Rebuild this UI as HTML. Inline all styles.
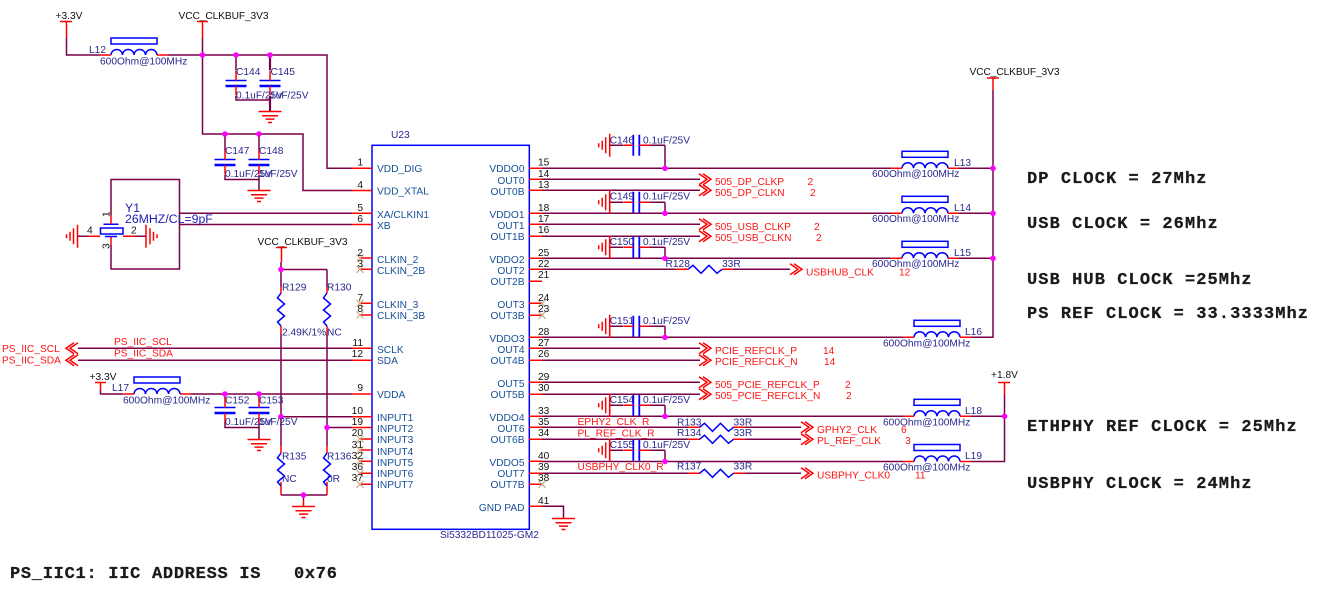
<!DOCTYPE html>
<html><head><meta charset="utf-8"><style>
html,body{margin:0;padding:0;background:#fff}
svg{display:block}
text{font-family:"Liberation Sans",sans-serif;font-size:10.2px;white-space:pre}
.n{fill:#28288f}.p{fill:#174f98}.r{fill:#ff1414}.k{fill:#111}
.b{font-family:"Liberation Mono",monospace;font-weight:bold;font-size:17px;letter-spacing:1.08px;fill:#1a1a1a;stroke:#1a1a1a;stroke-width:.25px}
.e{text-anchor:end}
.w{fill:none;stroke:#7a0048;stroke-width:1.5}
.red{fill:none;stroke:#ff0000;stroke-width:1.5}
.bl{fill:none;stroke:#0000ff;stroke-width:1.5}
.nc{fill:none;stroke:#c8a880;stroke-width:1.1}
.d{fill:#ff00ff}
</style></head><body>
<svg width="1339" height="608" viewBox="0 0 1339 608" xmlns="http://www.w3.org/2000/svg">
<defs>
<g id="coil"><path class="bl" d="M0 0a5.750 5.500 0 0 1 11.500 0a5.750 5.500 0 0 1 11.500 0a5.750 5.500 0 0 1 11.500 0a5.750 5.500 0 0 1 11.500 0"/><rect class="bl" x="0" y="-17" width="46" height="6"/><path class="red" d="M-11 0H0M46 0H57"/></g>
<path id="zh" class="bl" d="M0 0l5-4l8 8l8-8l8 8l5-4"/>
<path id="zv" class="bl" d="M0 0l-3.500 5l7 6l-7 6l7 6l-7 6l3.500 4"/>
<g id="gnd"><path class="red" d="M-11.500 0H11.500M-8 4.300H8M-4.500 7.600H4.500M-2 11H2"/></g>
<g id="gl"><path class="red" d="M0 -11.500V11.500M-4 -8V8M-7.500 -4.500V4.500M-11 -2V2"/></g>
<g id="gr"><path class="red" d="M0 -11.500V11.500M4 -8V8M7.500 -4.500V4.500M11 -2V2"/></g>
<path id="ch" class="red" d="M0-5.500L8 0L0 5.500M4-5.500L12 0L4 5.500"/>
<path id="chl" class="red" d="M12-5.500L4 0L12 5.500M8-5.500L0 0L8 5.500"/>
<path id="x" class="nc" d="M-3.500-3.500L3.500 3.500M-3.500 3.500L3.500-3.500"/>
<g id="hc"><path class="bl" style="stroke-width:1.800" d="M0-10.500V10.500M6-10.500V10.500"/><path class="red" d="M-10 0H0M6 0H16"/></g>
<g id="vc"><path class="bl" d="M-10.500 0H10.500"/><path class="bl" style="stroke-width:2.400" d="M-10.500 5.500H10.500"/><path class="red" d="M0 -10V0M0 5.500V15"/></g>
</defs>

<!-- wires -->
<path class="w" d="M66.500 38V55H100M168 55H327V168.300H352M202.500 38V134H303V190.500H352"/>
<path class="w" d="M236 55V70M236 96V100H270"/>
<path class="w" style="stroke-width:2.200" d="M270 55V70M270 96V111"/>
<path class="w" d="M225 134V150M259 134V150M225 175V179.500H259M259 175V190"/>
<path class="w" d="M111 215V179.500H179.500V269H111V245M179.500 213.300H352M179.500 224.500H352M77.500 236.300H100M123 236.300H146"/>
<path class="w" d="M281 262V287M281 334V446M327 269.500V287M327 334V446M281 269.500H327M78 348.300H352M78 360.300H352M100.500 390V394H123M191 394H352M281 416.700H352M327 427.500H352"/>
<path class="w" d="M225 394V398M259 394V398M225 422V427.500H259M259 422V439"/>
<path class="w" d="M281 495H327"/>
<path class="w" d="M993 90V337.300H971M540 168.300H891M959 168.300H993M540 179.300H700M540 190.300H700M540 213.300H891M959 213.300H993M540 224.300H700M540 236.300H700M540 258.300H891M959 258.300H993M540 269.300H676M734 269.300H790"/>
<path class="w" d="M540 337.300H903M540 348.300H700M540 360.300H700M540 382.300H700M540 394.300H700M540 416.300H903M971 416.300H1004.500V461.500H971M540 461.500H903M540 427.300H688M745 427.300H801M540 439.300H688M745 439.300H801M540 473.300H688M745 473.300H801M540 506.300H563.500V518"/>
<path class="w" d="M609.700 191V213M609.700 236V258M609.700 315V337M609.700 394V416M609.700 440V461"/>
<path class="w" d="M665 145.300V168M665 202.300V213M665 247.300V258M665 326.300V337M665 405.300V416M665 450.300V461"/>
<path class="w" d="M1004.500 395V416"/>

<!-- power bars -->
<path class="red" d="M60 21.500H72M66.500 21.500V38M197 21.500H208M202.500 21.500V38M276 247.500H287M281.500 247.500V262M95 382.500H106M100.500 382.500V390M987 78H999M993 78V90M998 382.500H1010M1004.500 382.500V395"/>

<!-- chip -->
<rect class="bl" x="372" y="145.300" width="157.300" height="384"/>
<path class="red" d="M352 168.300H372M352 190.500H372M352 213.300H372M352 224.500H372M360 258H372M360 269.300H372M360 303.300H372M360 315H372M352 348.300H372M352 360.300H372M352 394H372M352 416.700H372M352 427.500H372M360 439H372M360 450H372M360 461.300H372M360 473.300H372M360 484.300H372"/>
<path class="red" d="M529 168.300H542M529 179.300H542M529 190.300H542M529 213.300H542M529 224.300H542M529 236.300H542M529 258.300H542M529 269.300H542M529 281.300H542M529 303.300H542M529 315.300H542M529 337.300H542M529 348.300H542M529 360.300H542M529 382.300H542M529 394.300H542M529 416.300H542M529 427.300H542M529 439.300H542M529 461.300H542M529 473.300H542M529 484.300H542M529 506.300H542"/>
<use href="#x" x="360" y="258"/><use href="#x" x="360" y="269.300"/><use href="#x" x="360" y="303.300"/><use href="#x" x="360" y="315"/><use href="#x" x="360" y="439"/><use href="#x" x="360" y="450"/><use href="#x" x="360" y="461.300"/><use href="#x" x="360" y="473.300"/><use href="#x" x="360" y="484.300"/>
<use href="#x" x="542" y="303.300"/><use href="#x" x="542" y="315.300"/><use href="#x" x="542" y="484.300"/>

<!-- inductors -->
<use href="#coil" x="111" y="55"/><use href="#coil" x="134" y="394"/>
<use href="#coil" x="902" y="168.300"/><use href="#coil" x="902" y="213.300"/><use href="#coil" x="902" y="258.300"/>
<use href="#coil" x="914" y="337.300"/><use href="#coil" x="914" y="416.300"/><use href="#coil" x="914" y="461.500"/>

<!-- vertical caps -->
<use href="#vc" x="236" y="80.500"/><use href="#vc" x="270" y="80.500"/>
<use href="#vc" x="225" y="159.500"/><use href="#vc" x="259" y="159.500"/>
<use href="#vc" x="225" y="407.500"/><use href="#vc" x="259" y="407.500"/>

<!-- horizontal caps -->
<path class="w" d="M609.700 145.300H623M649 145.300H665M609.700 202.300H623M649 202.300H665M609.700 247.300H623M649 247.300H665M609.700 326.300H623M649 326.300H665M609.700 405.300H623M649 405.300H665M609.700 450.300H623M649 450.300H665"/>
<use href="#hc" x="633.300" y="145.300"/><use href="#hc" x="633.300" y="202.300"/><use href="#hc" x="633.300" y="247.300"/><use href="#hc" x="633.300" y="326.300"/><use href="#hc" x="633.300" y="405.300"/><use href="#hc" x="633.300" y="450.300"/>
<use href="#gl" x="609.700" y="145.300"/><use href="#gl" x="609.700" y="202.300"/><use href="#gl" x="609.700" y="247.300"/><use href="#gl" x="609.700" y="326.300"/><use href="#gl" x="609.700" y="405.300"/><use href="#gl" x="609.700" y="450.300"/>

<!-- crystal -->
<rect class="bl" x="100.500" y="228" width="22.500" height="6"/>
<path class="bl" d="M103.500 224.300H118.500M105 236.500H117"/>
<path class="red" d="M111 215V224M111 237V245M88 236.300H100M123 236.300H135"/>
<use href="#gl" x="77.500" y="236.300"/><use href="#gr" x="146" y="236.300"/>

<!-- grounds -->
<use href="#gnd" x="270" y="111.500"/><use href="#gnd" x="259" y="190.500"/><use href="#gnd" x="259" y="439.500"/><use href="#gnd" x="303.500" y="506.500"/><use href="#gnd" x="563.500" y="518.500"/>
<path class="w" d="M303.500 495V500"/><path class="red" d="M303.500 500V506"/>

<!-- resistors -->
<path class="red" d="M281 287V293M281 326V334M327 287V293M327 326V334M281 446V453M281 482V495M327 446V453M327 482V495"/>
<use href="#zv" x="281" y="293"/><use href="#zv" x="327" y="293"/><use href="#zv" x="281" y="453"/><use href="#zv" x="327" y="453"/>
<path class="red" d="M676 269.300H688M722 269.300H734M688 427.300H700M733 427.300H745M688 439.300H700M733 439.300H745M688 473.300H700M733 473.300H745"/>
<use href="#zh" x="688" y="269.300"/><use href="#zh" x="699.500" y="427.300"/><use href="#zh" x="699.500" y="439.300"/><use href="#zh" x="699.500" y="473.300"/>

<!-- chevrons -->
<use href="#chl" x="66" y="348.300"/><use href="#chl" x="66" y="360.300"/>
<use href="#ch" x="699" y="179.300"/><use href="#ch" x="699" y="190.300"/><use href="#ch" x="699" y="224.300"/><use href="#ch" x="699" y="236.300"/><use href="#ch" x="699" y="348.300"/><use href="#ch" x="699" y="360.300"/><use href="#ch" x="699" y="382.300"/><use href="#ch" x="699" y="394.300"/>
<use href="#ch" x="790" y="269.300"/><use href="#ch" x="801" y="427.300"/><use href="#ch" x="801" y="439.300"/><use href="#ch" x="801" y="473.300"/>

<!-- dots -->
<g class="d">
<circle cx="202.500" cy="55" r="2.800"/><circle cx="236" cy="55" r="2.800"/><circle cx="270" cy="55" r="2.800"/><circle cx="225" cy="134" r="2.800"/><circle cx="259" cy="134" r="2.800"/>
<circle cx="281" cy="269.500" r="2.800"/><circle cx="225" cy="394" r="2.800"/><circle cx="259" cy="394" r="2.800"/><circle cx="281" cy="416.700" r="2.800"/><circle cx="327" cy="427.500" r="2.800"/><circle cx="303.500" cy="495" r="2.800"/>
<circle cx="665" cy="168.300" r="2.800"/><circle cx="665" cy="213.300" r="2.800"/><circle cx="665" cy="258.300" r="2.800"/><circle cx="665" cy="337.300" r="2.800"/><circle cx="665" cy="416.300" r="2.800"/><circle cx="665" cy="461.500" r="2.800"/>
<circle cx="993" cy="168.300" r="2.800"/><circle cx="993" cy="213.300" r="2.800"/><circle cx="993" cy="258.300" r="2.800"/><circle cx="1004.500" cy="416.300" r="2.800"/>
</g>

<!-- power text -->
<g class="k">
<text x="55.500" y="19">+3.3V</text><text x="178.500" y="19" textLength="90">VCC_CLKBUF_3V3</text><text x="257.500" y="245" textLength="90">VCC_CLKBUF_3V3</text><text x="89.500" y="380">+3.3V</text><text x="969.500" y="75" textLength="90">VCC_CLKBUF_3V3</text><text x="991" y="378">+1.8V</text>
</g>

<!-- navy labels -->
<g class="n">
<text x="89" y="53">L12</text><text x="100" y="64.500">600Ohm@100MHz</text>
<text x="236" y="75">C144</text><text x="270.500" y="75">C145</text><text x="236" y="98.500">0.1uF/25V</text><text x="270" y="98.500">1uF/25V</text>
<text x="225" y="154">C147</text><text x="259" y="154">C148</text><text x="225" y="177">0.1uF/25V</text><text x="259" y="177">1uF/25V</text>
<text x="125" y="212" style="font-size:12.300px;fill:#1c1cb0">Y1</text><text x="125" y="223" style="font-size:12.300px;fill:#1c1cb0">26MHZ/CL=9pF</text>
<text x="282" y="290.500">R129</text><text x="327" y="290.500">R130</text><text x="282" y="335.400">2.49K/1%</text><text x="327" y="335.400">NC</text>
<text x="282" y="459.400">R135</text><text x="327" y="459.400">R136</text><text x="282" y="482">NC</text><text x="327" y="482">0R</text>
<text x="112" y="391">L17</text><text x="123" y="403.600">600Ohm@100MHz</text>
<text x="225" y="403.400">C152</text><text x="259" y="403.400">C153</text><text x="225" y="425">0.1uF/25V</text><text x="259" y="425">1uF/25V</text>
<text x="391" y="138">U23</text><text x="440" y="538">Si5332BD11025-GM2</text>
<text x="609.700" y="143.700">C146</text><text x="643" y="143.700">0.1uF/25V</text>
<text x="609.700" y="199.400">C149</text><text x="643" y="199.400">0.1uF/25V</text>
<text x="609.700" y="245">C150</text><text x="643" y="245">0.1uF/25V</text>
<text x="609.700" y="324">C151</text><text x="643" y="324">0.1uF/25V</text>
<text x="609.700" y="403">C154</text><text x="643" y="403">0.1uF/25V</text>
<text x="609.700" y="448">C155</text><text x="643" y="448">0.1uF/25V</text>
<text x="665.500" y="267">R128</text><text x="722" y="267">33R</text>
<text x="677" y="425.400">R133</text><text x="733.500" y="425.400">33R</text>
<text x="677" y="436">R134</text><text x="733.500" y="436">33R</text>
<text x="677" y="469.700">R137</text><text x="733.500" y="469.700">33R</text>
<text x="954" y="166">L13</text><text x="872" y="177">600Ohm@100MHz</text>
<text x="954" y="211">L14</text><text x="872" y="222">600Ohm@100MHz</text>
<text x="954" y="256">L15</text><text x="872" y="267">600Ohm@100MHz</text>
<text x="965" y="335">L16</text><text x="883" y="346.400">600Ohm@100MHz</text>
<text x="965" y="414">L18</text><text x="883" y="425.400">600Ohm@100MHz</text>
<text x="965" y="459">L19</text><text x="883" y="470.500">600Ohm@100MHz</text>
</g>

<!-- pin names -->
<g class="p">
<text x="377" y="172">VDD_DIG</text><text x="377" y="194.500">VDD_XTAL</text><text x="377" y="218">XA/CLKIN1</text><text x="377" y="229">XB</text><text x="377" y="263">CLKIN_2</text><text x="377" y="274">CLKIN_2B</text><text x="377" y="308">CLKIN_3</text><text x="377" y="319">CLKIN_3B</text><text x="377" y="353">SCLK</text><text x="377" y="364">SDA</text><text x="377" y="398">VDDA</text><text x="377" y="421">INPUT1</text><text x="377" y="432">INPUT2</text><text x="377" y="443">INPUT3</text><text x="377" y="455">INPUT4</text><text x="377" y="466">INPUT5</text><text x="377" y="477">INPUT6</text><text x="377" y="488">INPUT7</text>
<text class="e" x="524.500" y="172">VDDO0</text><text class="e" x="524.500" y="184">OUT0</text><text class="e" x="524.500" y="195">OUT0B</text><text class="e" x="524.500" y="218">VDDO1</text><text class="e" x="524.500" y="229">OUT1</text><text class="e" x="524.500" y="240">OUT1B</text><text class="e" x="524.500" y="263">VDDO2</text><text class="e" x="524.500" y="274">OUT2</text><text class="e" x="524.500" y="285">OUT2B</text><text class="e" x="524.500" y="308">OUT3</text><text class="e" x="524.500" y="319">OUT3B</text><text class="e" x="524.500" y="342">VDDO3</text><text class="e" x="524.500" y="353">OUT4</text><text class="e" x="524.500" y="364">OUT4B</text><text class="e" x="524.500" y="387">OUT5</text><text class="e" x="524.500" y="398">OUT5B</text><text class="e" x="524.500" y="421">VDDO4</text><text class="e" x="524.500" y="432">OUT6</text><text class="e" x="524.500" y="443">OUT6B</text><text class="e" x="524.500" y="466">VDDO5</text><text class="e" x="524.500" y="477">OUT7</text><text class="e" x="524.500" y="488">OUT7B</text><text class="e" x="524.500" y="511">GND PAD</text>
</g>

<!-- pin numbers -->
<g class="k">
<text class="e" x="363" y="165.500">1</text><text class="e" x="363" y="188">4</text><text class="e" x="363" y="211">5</text><text class="e" x="363" y="222">6</text><text class="e" x="363" y="256">2</text><text class="e" x="363" y="267">3</text><text class="e" x="363" y="301">7</text><text class="e" x="363" y="312">8</text><text class="e" x="363" y="346">11</text><text class="e" x="363" y="357">12</text><text class="e" x="363" y="391">9</text><text class="e" x="363" y="414">10</text><text class="e" x="363" y="425">19</text><text class="e" x="363" y="436">20</text><text class="e" x="363" y="448">31</text><text class="e" x="363" y="459">32</text><text class="e" x="363" y="470">36</text><text class="e" x="363" y="481">37</text>
<text x="538" y="165.500">15</text><text x="538" y="177">14</text><text x="538" y="188">13</text><text x="538" y="211">18</text><text x="538" y="222">17</text><text x="538" y="233">16</text><text x="538" y="256">25</text><text x="538" y="267">22</text><text x="538" y="278">21</text><text x="538" y="301">24</text><text x="538" y="312">23</text><text x="538" y="335">28</text><text x="538" y="346">27</text><text x="538" y="357">26</text><text x="538" y="380">29</text><text x="538" y="391">30</text><text x="538" y="414">33</text><text x="538" y="425">35</text><text x="538" y="436">34</text><text x="538" y="459">40</text><text x="538" y="470">39</text><text x="538" y="481">38</text><text x="538" y="504">41</text>
<text x="87" y="233.500">4</text><text x="131" y="233.500">2</text>
<text transform="translate(109.500 217) rotate(-90)">1</text><text transform="translate(109.500 249) rotate(-90)">3</text>
</g>

<!-- red labels -->
<g class="r">
<text x="2" y="352">PS_IIC_SCL</text><text x="2" y="363.500">PS_IIC_SDA</text><text x="114" y="345">PS_IIC_SCL</text><text x="114" y="356.500">PS_IIC_SDA</text>
<text x="715" y="185">505_DP_CLKP</text><text x="807.500" y="185">2</text><text x="715" y="196">505_DP_CLKN</text><text x="810" y="196">2</text>
<text x="715" y="230">505_USB_CLKP</text><text x="814" y="230">2</text><text x="715" y="241">505_USB_CLKN</text><text x="816" y="241">2</text>
<text x="806" y="275.300">USBHUB_CLK</text><text x="899" y="275.300">12</text>
<text x="715" y="354">PCIE_REFCLK_P</text><text x="823" y="354">14</text><text x="715" y="365">PCIE_REFCLK_N</text><text x="824" y="365">14</text>
<text x="715" y="388">505_PCIE_REFCLK_P</text><text x="845" y="388">2</text><text x="715" y="399">505_PCIE_REFCLK_N</text><text x="846" y="399">2</text>
<text x="577.500" y="425">EPHY2_CLK_R</text><text x="577.500" y="436.500">PL_REF_CLK_R</text><text x="577.500" y="470">USBPHY_CLK0_R</text>
<text x="817" y="433">GPHY2_CLK</text><text x="901" y="433">6</text><text x="817" y="444">PL_REF_CLK</text><text x="905" y="444">3</text>
<text x="817" y="478.400">USBPHY_CLK0</text><text x="915" y="478.400">11</text>
</g>

<!-- notes -->
<text class="b" x="1027" y="183">DP CLOCK = 27Mhz</text>
<text class="b" x="1027" y="228">USB CLOCK = 26Mhz</text>
<text class="b" x="1027" y="284">USB HUB CLOCK =25Mhz</text>
<text class="b" x="1027" y="318">PS REF CLOCK = 33.3333Mhz</text>
<text class="b" x="1027" y="431">ETHPHY REF CLOCK = 25Mhz</text>
<text class="b" x="1027" y="488">USBPHY CLOCK = 24Mhz</text>
<text class="b" x="10" y="578" style="letter-spacing:.72px">PS_IIC1: IIC ADDRESS IS   0x76</text>
</svg>
</body></html>
